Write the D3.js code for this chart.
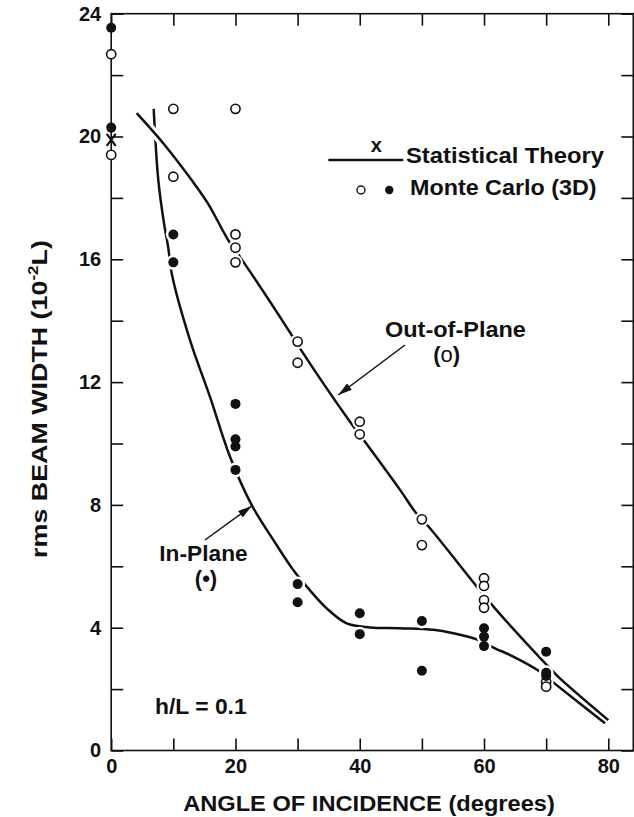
<!DOCTYPE html>
<html><head><meta charset="utf-8">
<script src="https://cdn.jsdelivr.net/npm/d3@7"></script>
<style>
body{margin:0;background:#fff}
svg{display:block}
text{font-family:"Liberation Sans",Arial,Helvetica,sans-serif;font-weight:bold;fill:#111}
</style>
</head><body>
<svg id="c" width="634" height="817"></svg>
<script>
// ---------- data ----------
const angleTicks = [0,10,20,30,40,50,60,70,80];
const angleLabels = [0,20,40,60,80];
const widthTicks = [0,2,4,6,8,10,12,14,16,18,20,22,24];
const widthLabels = [0,4,8,12,16,20,24];

// Monte Carlo (3D) points: [angle, rms width]
const outPlaneMC = [[0,22.68],[0,19.40],[10,20.90],[10,18.69],[20,20.90],[20,16.81],[20,16.38],[20,15.90],
  [30,13.32],[30,12.63],[40,10.71],[40,10.30],[50,7.53],[50,6.69],[60,5.61],[60,5.36],[60,4.90],[60,4.65],[70,2.24],[70,2.08]];
const inPlaneMC = [[0,23.54],[0,20.29],[10,16.81],[10,15.90],[20,11.29],[20,10.14],[20,9.90],[20,9.14],
  [30,5.42],[30,4.83],[40,4.47],[40,3.79],[50,4.22],[50,2.60],[60,3.98],[60,3.71],[60,3.40],[70,3.22],[70,2.53],[70,2.43]];

// Statistical theory
const theoryAtZero = [[0,19.89]];
const inPlaneTheory = [[6.84,20.90],[7.58,18.58],[8.50,17.17],[9.19,16.37],[9.74,15.54],[12.68,13.37],[15.90,11.52],
  [19.12,9.57],[22.6,8.0],[26.09,6.86],[29.30,5.88],[31.72,5.28],[34.68,4.63],[37.90,4.14],[41.65,4.01],
  [46.48,3.98],[51.83,3.93],[55.05,3.82],[58.82,3.62],[61.76,3.33],[64.71,3.06],[69.0,2.57],[71.69,2.13],[79.47,0.89]];
const outPlaneTheory = [[4.10,20.76],[8.5,19.75],[12.95,18.58],[15.63,17.80],[18.84,16.62],[20.73,16.08],[29.05,13.53],
  [30.38,13.10],[38.43,10.71],[40.84,10.06],[46.49,8.49],[48.89,7.78],[51.30,7.24],[59.08,5.28],[61.76,4.63],
  [70.08,2.79],[71.95,2.40],[80.0,0.99]];

// ---------- layout ----------
const svg = d3.select('#c');
const x = d3.scaleLinear().domain([0,80]).range([111.2,608.3]);
const y = d3.scaleLinear().domain([0,24]).range([750.5,13.7]);
const frameRight = 633.3, frameTop = y(24), frameBottom = y(0), frameLeft = x(0);

const line = d3.line().x(d=>x(d[0])).y(d=>y(d[1])).curve(d3.curveCatmullRom.alpha(0.5));

// curves
svg.append('path').attr('d', line(inPlaneTheory)).attr('fill','none').attr('stroke','#111').attr('stroke-width',2.5);
svg.append('path').attr('d', line(outPlaneTheory.filter(d=>d[0]<14))).attr('fill','none').attr('stroke','#fff').attr('stroke-width',9);
svg.append('path').attr('d', line(outPlaneTheory)).attr('fill','none').attr('stroke','#111').attr('stroke-width',2.5);

// white halos around markers (break the curves as in the print)
const allMC = outPlaneMC.concat(inPlaneMC);
svg.append('g').selectAll('circle').data(allMC).join('circle')
  .attr('cx',d=>x(d[0])).attr('cy',d=>y(d[1])).attr('r',7.5).attr('fill','#fff');

// frame
svg.append('rect').attr('x',frameLeft).attr('y',frameTop).attr('width',frameRight-frameLeft).attr('height',frameBottom-frameTop)
  .attr('fill','none').attr('stroke','#111').attr('stroke-width',1.6);
svg.append('line').attr('x1',frameRight).attr('x2',634).attr('y1',frameBottom).attr('y2',frameBottom).attr('stroke','#111').attr('stroke-width',1.6);

const styleAxis = g => { g.select('.domain').remove(); g.selectAll('.tick line').attr('stroke','#111').attr('stroke-width',1.6); g.selectAll('text').attr('fill','#111').attr('font-family',null).attr('font-size',20); };

svg.append('g').attr('transform',`translate(${frameLeft},0)`)
  .call(d3.axisLeft(y).tickValues(widthTicks).tickSize(-12).tickPadding(10).tickFormat(d=>widthLabels.includes(d)?d:''))
  .call(styleAxis);
svg.append('g').attr('transform',`translate(0,${frameBottom})`)
  .call(d3.axisBottom(x).tickValues(angleTicks).tickSize(-12).tickPadding(8).tickFormat(d=>angleLabels.includes(d)?d:''))
  .call(styleAxis);
svg.append('g').attr('transform',`translate(0,${frameTop})`)
  .call(d3.axisTop(x).tickValues(angleTicks).tickSize(-12).tickFormat(''))
  .call(styleAxis);
svg.append('g').attr('transform',`translate(${frameRight},0)`)
  .call(d3.axisRight(y).tickValues(widthTicks).tickSize(-12).tickFormat(''))
  .call(styleAxis);

// markers
svg.append('g').selectAll('circle').data(outPlaneMC).join('circle')
  .attr('cx',d=>x(d[0])).attr('cy',d=>y(d[1])).attr('r',4.6).attr('fill','#fff').attr('stroke','#111').attr('stroke-width',1.6);
svg.append('g').selectAll('circle').data(inPlaneMC).join('circle')
  .attr('cx',d=>x(d[0])).attr('cy',d=>y(d[1])).attr('r',5).attr('fill','#111');
// theory X at 0 deg
svg.append('g').selectAll('path').data(theoryAtZero).join('path')
  .attr('d',d=>{const cx=x(d[0]),cy=y(d[1]);return `M${cx-4.5},${cy-6}L${cx+4.5},${cy+6}M${cx+4.5},${cy-6}L${cx-4.5},${cy+6}`;})
  .attr('stroke','#111').attr('stroke-width',2.2).attr('fill','none');

// ---------- text helper ----------
function label(parts, px, py, size, anchor, targetW, rot){
  const g = svg.append('g').attr('transform',`translate(${px},${py})${rot?' rotate(-90)':''}`);
  const t = g.append('text').attr('font-size',size).attr('text-anchor',anchor);
  if (typeof parts === 'string') t.text(parts);
  else parts.forEach(p=>{const s=t.append('tspan').text(p.t); if(p.size) s.attr('font-size',p.size); if(p.dy) s.attr('dy',p.dy); if(p.w) s.attr('font-weight',p.w);});
  if (targetW){ const w = t.node().getBBox().width; t.attr('transform',`scale(${targetW/w},1)`); }
  return t;
}

// legend
svg.append('line').attr('x1',328.3).attr('x2',403.3).attr('y1',160).attr('y2',160).attr('stroke','#111').attr('stroke-width',2.5);
label('x',376.3,152,20,'middle');
label('Statistical Theory',406,163.3,22,'start',199);
svg.append('circle').attr('cx',361).attr('cy',190).attr('r',4).attr('fill','#fff').attr('stroke','#111').attr('stroke-width',1.4);
svg.append('circle').attr('cx',389.3).attr('cy',190).attr('r',4.2).attr('fill','#111');
label('Monte Carlo (3D)',410,195,22,'start',186.7);

// annotations
const defs = svg.append('defs');
defs.append('marker').attr('id','ah').attr('viewBox','0 0 14 8').attr('refX',14).attr('refY',4)
  .attr('markerWidth',14).attr('markerHeight',8).attr('markerUnits','userSpaceOnUse').attr('orient','auto')
  .append('path').attr('d','M0,0L14,4L0,8Z').attr('fill','#111');
svg.append('line').attr('x1',405).attr('y1',345).attr('x2',338.3).attr('y2',395).attr('stroke','#111').attr('stroke-width',1.5).attr('marker-end','url(#ah)');
svg.append('line').attr('x1',205).attr('y1',540).attr('x2',251.7).attr('y2',506).attr('stroke','#111').attr('stroke-width',1.5).attr('marker-end','url(#ah)');

label('Out-of-Plane',385,336.7,22,'start',141);
label([{t:'('},{t:'o',w:'normal'},{t:')'}],446.7,362,22,'middle');
label('In-Plane',159.3,561,22,'start',88.4);
label('(•)',206,586,22,'middle');
label('h/L = 0.1',155,714,22,'start',91.7);

// axis titles
label('ANGLE OF INCIDENCE (degrees)',369,811,22,'middle',372);
label([{t:'rms BEAM WIDTH (10'},{t:'-2',size:14,dy:-9},{t:'L)',dy:9}],46.5,399,22,'middle',318,true);
</script>
</body></html>
